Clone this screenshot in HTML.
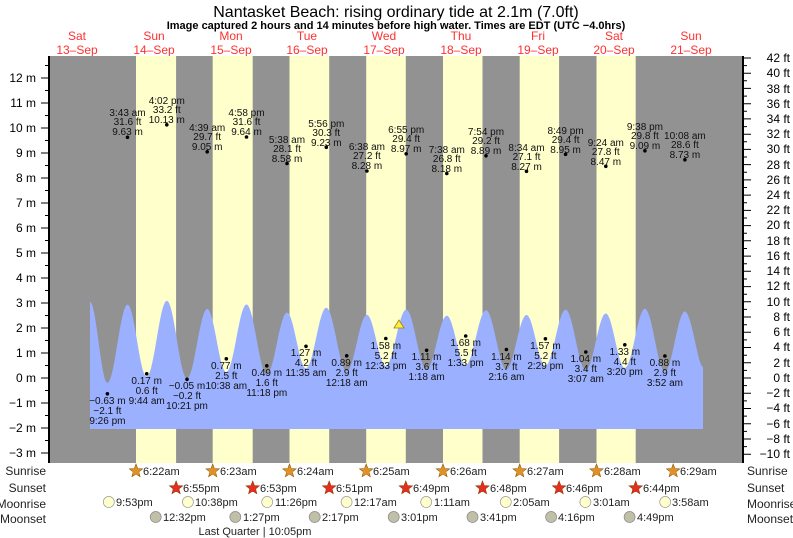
<!DOCTYPE html>
<html><head><meta charset="utf-8"><style>
body{margin:0;background:#fff;}
svg{display:block;font-family:"Liberation Sans",sans-serif;}
</style></head><body>
<svg width="793" height="538" viewBox="0 0 793 538" xmlns="http://www.w3.org/2000/svg">
<defs>
<polygon id="st" points="0,-7 1.76,-2.43 6.66,-2.16 2.85,0.93 4.11,5.66 0,3 -4.11,5.66 -2.85,0.93 -6.66,-2.16 -1.76,-2.43"/>
</defs>
<rect width="793" height="538" fill="#fff"/>
<text x="396" y="17" font-size="16" text-anchor="middle">Nantasket Beach: rising  ordinary tide at 2.1m (7.0ft)</text>
<text x="396" y="29" font-size="11" font-weight="bold" text-anchor="middle">Image captured 2 hours and 14 minutes before high water. Times are EDT (UTC −4.0hrs)</text>
<g font-size="12" fill="#ff3030" text-anchor="middle">
<text x="77" y="40">Sat</text><text x="77" y="54">13–Sep</text>
<text x="154" y="40">Sun</text><text x="154" y="54">14–Sep</text>
<text x="231" y="40">Mon</text><text x="231" y="54">15–Sep</text>
<text x="307" y="40">Tue</text><text x="307" y="54">16–Sep</text>
<text x="384" y="40">Wed</text><text x="384" y="54">17–Sep</text>
<text x="461" y="40">Thu</text><text x="461" y="54">18–Sep</text>
<text x="538" y="40">Fri</text><text x="538" y="54">19–Sep</text>
<text x="614" y="40">Sat</text><text x="614" y="54">20–Sep</text>
<text x="691" y="40">Sun</text><text x="691" y="54">21–Sep</text>
</g>
<rect x="49" y="56" width="694" height="407" fill="#929292"/>
<g fill="#ffffcc">
<rect x="136" y="56" width="40.1" height="407"/>
<rect x="212.7" y="56" width="40" height="407"/>
<rect x="289.5" y="56" width="39.7" height="407"/>
<rect x="366.2" y="56" width="39.6" height="407"/>
<rect x="443" y="56" width="39.5" height="407"/>
<rect x="519.7" y="56" width="39.4" height="407"/>
<rect x="596.5" y="56" width="39.2" height="407"/>
</g>
<path fill="#9bb0ff" d="M90,429 L90,302
C96.3,302 101.1,382.8 107.4,382.8
C114.7,382.8 120.2,304.6 127.5,304.6
C134.5,304.6 139.7,376.7 146.7,376.7
C154,376.7 159.5,300.8 166.8,300.8
C174.2,300.8 179.6,378.4 187,378.4
C194.4,378.4 199.8,309 207.2,309
C214.2,309 219.3,372.1 226.3,372.1
C233.7,372.1 239.1,304.5 246.5,304.5
C253.9,304.5 259.4,374.3 266.8,374.3
C274.2,374.3 279.6,312.6 287,312.6
C293.9,312.6 299.1,368.3 306,368.3
C313.4,368.3 318.9,307.7 326.3,307.7
C333.7,307.7 339.3,371.2 346.7,371.2
C354.1,371.2 359.5,314.9 366.9,314.9
C373.8,314.9 378.9,366 385.8,366
C393.2,366 398.8,309.6 406.2,309.6
C413.6,309.6 419.2,369.5 426.6,369.5
C434,369.5 439.4,315.7 446.8,315.7
C453.7,315.7 458.8,365.2 465.7,365.2
C473.1,365.2 478.6,310.3 486,310.3
C493.4,310.3 499,369.3 506.4,369.3
C513.7,369.3 519.2,315 526.5,315
C533.4,315 538.5,366 545.4,366
C552.8,366 558.2,309.8 565.6,309.8
C573,309.8 578.4,370.1 585.8,370.1
C593.1,370.1 598.5,313.5 605.8,313.5
C612.7,313.5 617.9,367.9 624.8,367.9
C632.1,367.9 637.6,308.7 644.9,308.7
C652.2,308.7 657.6,371.3 664.9,371.3
C672.2,371.3 677.6,311.5 684.9,311.5
C691.5,311.5 698,366.7 703,366.7
L703,429 Z"/>
<polygon points="399,320 394,328 404,328" fill="#ffee44" stroke="#a08000" stroke-width="0.8"/>
<path stroke="#000" stroke-width="1" fill="none" d="M41,453H49M41,428H49M41,403H49M41,378H49M41,353H49M41,328H49M41,303H49M41,278H49M41,253H49M41,228H49M41,203H49M41,178H49M41,153H49M41,128H49M41,103H49M41,78H49
M45,440.5H49M45,415.5H49M45,390.5H49M45,365.5H49M45,340.5H49M45,315.5H49M45,290.5H49M45,265.5H49M45,240.5H49M45,215.5H49M45,190.5H49M45,165.5H49M45,140.5H49M45,115.5H49M45,90.5H49M45,65.5H49"/>
<path stroke="#000" stroke-width="1" fill="none" d="M743,454.2H751M743,439H751M743,423.7H751M743,408.5H751M743,393.2H751M743,378H751M743,362.8H751M743,347.5H751M743,332.3H751M743,317H751M743,301.8H751M743,286.6H751M743,271.3H751M743,256.1H751M743,240.8H751M743,225.6H751M743,210.4H751M743,195.1H751M743,179.9H751M743,164.6H751M743,149.4H751M743,134.2H751M743,118.9H751M743,103.7H751M743,88.4H751M743,73.2H751M743,58H751
M743,446.6H747M743,431.4H747M743,416.1H747M743,400.9H747M743,385.6H747M743,370.4H747M743,355.2H747M743,339.9H747M743,324.7H747M743,309.4H747M743,294.2H747M743,279H747M743,263.7H747M743,248.5H747M743,233.2H747M743,218H747M743,202.8H747M743,187.5H747M743,172.3H747M743,157H747M743,141.8H747M743,126.6H747M743,111.3H747M743,96.1H747M743,80.8H747M743,65.6H747"/>
<line x1="49" y1="56" x2="49" y2="463" stroke="#000" stroke-width="2"/>
<line x1="743" y1="56" x2="743" y2="463" stroke="#000" stroke-width="2"/>
<g font-size="12" text-anchor="end">
<text x="36" y="82">12 m</text><text x="36" y="107">11 m</text><text x="36" y="132">10 m</text><text x="36" y="157">9 m</text><text x="36" y="182">8 m</text><text x="36" y="207">7 m</text><text x="36" y="232">6 m</text><text x="36" y="257">5 m</text><text x="36" y="282">4 m</text><text x="36" y="307">3 m</text><text x="36" y="332">2 m</text><text x="36" y="357">1 m</text><text x="36" y="382">0 m</text><text x="36" y="407">−1 m</text><text x="36" y="432">−2 m</text><text x="36" y="457">−3 m</text>
</g>
<g font-size="12" text-anchor="end">
<text x="790" y="62">42 ft</text><text x="790" y="77">40 ft</text><text x="790" y="93">38 ft</text><text x="790" y="108">36 ft</text><text x="790" y="123">34 ft</text><text x="790" y="138">32 ft</text><text x="790" y="153">30 ft</text><text x="790" y="169">28 ft</text><text x="790" y="184">26 ft</text><text x="790" y="199">24 ft</text><text x="790" y="214">22 ft</text><text x="790" y="229">20 ft</text><text x="790" y="245">18 ft</text><text x="790" y="260">16 ft</text><text x="790" y="275">14 ft</text><text x="790" y="290">12 ft</text><text x="790" y="306">10 ft</text><text x="790" y="321">8 ft</text><text x="790" y="336">6 ft</text><text x="790" y="351">4 ft</text><text x="790" y="367">2 ft</text><text x="790" y="382">0 ft</text><text x="790" y="397">−2 ft</text><text x="790" y="412">−4 ft</text><text x="790" y="428">−6 ft</text><text x="790" y="443">−8 ft</text><text x="790" y="458">−10 ft</text>
</g>
<g fill="#000">
<circle cx="127.5" cy="137.3" r="1.8"/><circle cx="166.8" cy="124.8" r="1.8"/><circle cx="207.2" cy="151.8" r="1.8"/><circle cx="246.5" cy="137" r="1.8"/><circle cx="287" cy="163.5" r="1.8"/><circle cx="326.3" cy="147.3" r="1.8"/><circle cx="366.9" cy="171" r="1.8"/><circle cx="406.2" cy="153.8" r="1.8"/><circle cx="446.8" cy="173.5" r="1.8"/><circle cx="486" cy="155.8" r="1.8"/><circle cx="526.5" cy="171.3" r="1.8"/><circle cx="565.6" cy="154.3" r="1.8"/><circle cx="605.8" cy="166.3" r="1.8"/><circle cx="644.9" cy="150.8" r="1.8"/><circle cx="684.9" cy="159.8" r="1.8"/>
<circle cx="107.4" cy="393.8" r="1.8"/><circle cx="146.7" cy="373.8" r="1.8"/><circle cx="187" cy="379.3" r="1.8"/><circle cx="226.3" cy="358.8" r="1.8"/><circle cx="266.8" cy="365.8" r="1.8"/><circle cx="306" cy="346.3" r="1.8"/><circle cx="346.7" cy="355.8" r="1.8"/><circle cx="385.8" cy="338.5" r="1.8"/><circle cx="426.6" cy="350.3" r="1.8"/><circle cx="465.7" cy="336" r="1.8"/><circle cx="506.4" cy="349.5" r="1.8"/><circle cx="545.4" cy="338.8" r="1.8"/><circle cx="585.8" cy="352" r="1.8"/><circle cx="624.8" cy="344.8" r="1.8"/><circle cx="664.9" cy="356" r="1.8"/>
</g>
<g font-size="10" text-anchor="middle" fill="#111">
<text x="127.5" y="116">3:43 am</text><text x="127.5" y="125">31.6 ft</text><text x="127.5" y="135">9.63 m</text>
<text x="166.8" y="104">4:02 pm</text><text x="166.8" y="113">33.2 ft</text><text x="166.8" y="123">10.13 m</text>
<text x="207.2" y="131">4:39 am</text><text x="207.2" y="140">29.7 ft</text><text x="207.2" y="150">9.05 m</text>
<text x="246.5" y="116">4:58 pm</text><text x="246.5" y="125">31.6 ft</text><text x="246.5" y="135">9.64 m</text>
<text x="287" y="143">5:38 am</text><text x="287" y="152">28.1 ft</text><text x="287" y="162">8.58 m</text>
<text x="326.3" y="127">5:56 pm</text><text x="326.3" y="136">30.3 ft</text><text x="326.3" y="146">9.23 m</text>
<text x="366.9" y="150">6:38 am</text><text x="366.9" y="159">27.2 ft</text><text x="366.9" y="169">8.28 m</text>
<text x="406.2" y="133">6:55 pm</text><text x="406.2" y="142">29.4 ft</text><text x="406.2" y="152">8.97 m</text>
<text x="446.8" y="153">7:38 am</text><text x="446.8" y="162">26.8 ft</text><text x="446.8" y="172">8.18 m</text>
<text x="486" y="135">7:54 pm</text><text x="486" y="144">29.2 ft</text><text x="486" y="154">8.89 m</text>
<text x="526.5" y="151">8:34 am</text><text x="526.5" y="160">27.1 ft</text><text x="526.5" y="170">8.27 m</text>
<text x="565.6" y="134">8:49 pm</text><text x="565.6" y="143">29.4 ft</text><text x="565.6" y="153">8.95 m</text>
<text x="605.8" y="146">9:24 am</text><text x="605.8" y="155">27.8 ft</text><text x="605.8" y="165">8.47 m</text>
<text x="644.9" y="130">9:38 pm</text><text x="644.9" y="139">29.8 ft</text><text x="644.9" y="149">9.09 m</text>
<text x="684.9" y="139">10:08 am</text><text x="684.9" y="148">28.6 ft</text><text x="684.9" y="158">8.73 m</text>
<text x="107.4" y="404">−0.63 m</text><text x="107.4" y="414">−2.1 ft</text><text x="107.4" y="424">9:26 pm</text>
<text x="146.7" y="384">0.17 m</text><text x="146.7" y="394">0.6 ft</text><text x="146.7" y="404">9:44 am</text>
<text x="187" y="389">−0.05 m</text><text x="187" y="399">−0.2 ft</text><text x="187" y="409">10:21 pm</text>
<text x="226.3" y="369">0.77 m</text><text x="226.3" y="379">2.5 ft</text><text x="226.3" y="389">10:38 am</text>
<text x="266.8" y="376">0.49 m</text><text x="266.8" y="386">1.6 ft</text><text x="266.8" y="396">11:18 pm</text>
<text x="306" y="356">1.27 m</text><text x="306" y="366">4.2 ft</text><text x="306" y="376">11:35 am</text>
<text x="346.7" y="366">0.89 m</text><text x="346.7" y="376">2.9 ft</text><text x="346.7" y="386">12:18 am</text>
<text x="385.8" y="349">1.58 m</text><text x="385.8" y="359">5.2 ft</text><text x="385.8" y="369">12:33 pm</text>
<text x="426.6" y="360">1.11 m</text><text x="426.6" y="370">3.6 ft</text><text x="426.6" y="380">1:18 am</text>
<text x="465.7" y="346">1.68 m</text><text x="465.7" y="356">5.5 ft</text><text x="465.7" y="366">1:33 pm</text>
<text x="506.4" y="360">1.14 m</text><text x="506.4" y="370">3.7 ft</text><text x="506.4" y="380">2:16 am</text>
<text x="545.4" y="349">1.57 m</text><text x="545.4" y="359">5.2 ft</text><text x="545.4" y="369">2:29 pm</text>
<text x="585.8" y="362">1.04 m</text><text x="585.8" y="372">3.4 ft</text><text x="585.8" y="382">3:07 am</text>
<text x="624.8" y="355">1.33 m</text><text x="624.8" y="365">4.4 ft</text><text x="624.8" y="375">3:20 pm</text>
<text x="664.9" y="366">0.88 m</text><text x="664.9" y="376">2.9 ft</text><text x="664.9" y="386">3:52 am</text>
</g>
<g font-size="12" fill="#222">
<text x="46" y="475" text-anchor="end">Sunrise</text><text x="46" y="492" text-anchor="end">Sunset</text><text x="46" y="508" text-anchor="end">Moonrise</text><text x="46" y="523" text-anchor="end">Moonset</text>
<text x="747" y="475">Sunrise</text><text x="747" y="492">Sunset</text><text x="747" y="508">Moonrise</text><text x="747" y="523">Moonset</text>
</g>
<g fill="#e0902a" stroke="#8a5a00" stroke-width="0.6">
<use href="#st" x="136" y="471"/><use href="#st" x="212.7" y="471"/><use href="#st" x="289.5" y="471"/><use href="#st" x="366.2" y="471"/><use href="#st" x="443" y="471"/><use href="#st" x="519.7" y="471"/><use href="#st" x="596.5" y="471"/><use href="#st" x="673.2" y="471"/>
</g>
<g fill="#e0902a">
<circle cx="136" cy="471.5" r="3.6"/><circle cx="212.7" cy="471.5" r="3.6"/><circle cx="289.5" cy="471.5" r="3.6"/><circle cx="366.2" cy="471.5" r="3.6"/><circle cx="443" cy="471.5" r="3.6"/><circle cx="519.7" cy="471.5" r="3.6"/><circle cx="596.5" cy="471.5" r="3.6"/><circle cx="673.2" cy="471.5" r="3.6"/>
</g>
<g fill="#e03020" stroke="#8a3a00" stroke-width="0.6">
<use href="#st" x="176.1" y="488"/><use href="#st" x="252.7" y="488"/><use href="#st" x="329.2" y="488"/><use href="#st" x="405.8" y="488"/><use href="#st" x="482.5" y="488"/><use href="#st" x="559.1" y="488"/><use href="#st" x="635.7" y="488"/>
</g>
<g fill="#e03020">
<circle cx="176.1" cy="488.5" r="3.6"/><circle cx="252.7" cy="488.5" r="3.6"/><circle cx="329.2" cy="488.5" r="3.6"/><circle cx="405.8" cy="488.5" r="3.6"/><circle cx="482.5" cy="488.5" r="3.6"/><circle cx="559.1" cy="488.5" r="3.6"/><circle cx="635.7" cy="488.5" r="3.6"/>
</g>
<g fill="#ffffcc" stroke="#999" stroke-width="0.7">
<circle cx="108.8" cy="502" r="5.5"/><circle cx="187.9" cy="502" r="5.5"/><circle cx="267.2" cy="502" r="5.5"/><circle cx="346.6" cy="502" r="5.5"/><circle cx="426.2" cy="502" r="5.5"/><circle cx="505.8" cy="502" r="5.5"/><circle cx="585.4" cy="502" r="5.5"/><circle cx="665.2" cy="502" r="5.5"/>
</g>
<g fill="#c0c0a8" stroke="#888" stroke-width="0.7">
<circle cx="155.7" cy="517" r="5.5"/><circle cx="235.3" cy="517" r="5.5"/><circle cx="314.7" cy="517" r="5.5"/><circle cx="393.7" cy="517" r="5.5"/><circle cx="472.5" cy="517" r="5.5"/><circle cx="551.1" cy="517" r="5.5"/><circle cx="629.6" cy="517" r="5.5"/>
</g>
<g font-size="11" fill="#222">
<text x="143" y="475">6:22am</text><text x="220" y="475">6:23am</text><text x="297" y="475">6:24am</text><text x="373" y="475">6:25am</text><text x="450" y="475">6:26am</text><text x="527" y="475">6:27am</text><text x="604" y="475">6:28am</text><text x="680" y="475">6:29am</text>
<text x="183" y="492">6:55pm</text><text x="260" y="492">6:53pm</text><text x="336" y="492">6:51pm</text><text x="413" y="492">6:49pm</text><text x="490" y="492">6:48pm</text><text x="566" y="492">6:46pm</text><text x="643" y="492">6:44pm</text>
<text x="116" y="506">9:53pm</text><text x="195" y="506">10:38pm</text><text x="275" y="506">11:26pm</text><text x="354" y="506">12:17am</text><text x="434" y="506">1:11am</text><text x="513" y="506">2:05am</text><text x="593" y="506">3:01am</text><text x="672" y="506">3:58am</text>
<text x="163" y="521">12:32pm</text><text x="243" y="521">1:27pm</text><text x="322" y="521">2:17pm</text><text x="401" y="521">3:01pm</text><text x="480" y="521">3:41pm</text><text x="558" y="521">4:16pm</text><text x="637" y="521">4:49pm</text>
<text x="255" y="535" text-anchor="middle">Last Quarter | 10:05pm</text>
</g>
</svg>
</body></html>
